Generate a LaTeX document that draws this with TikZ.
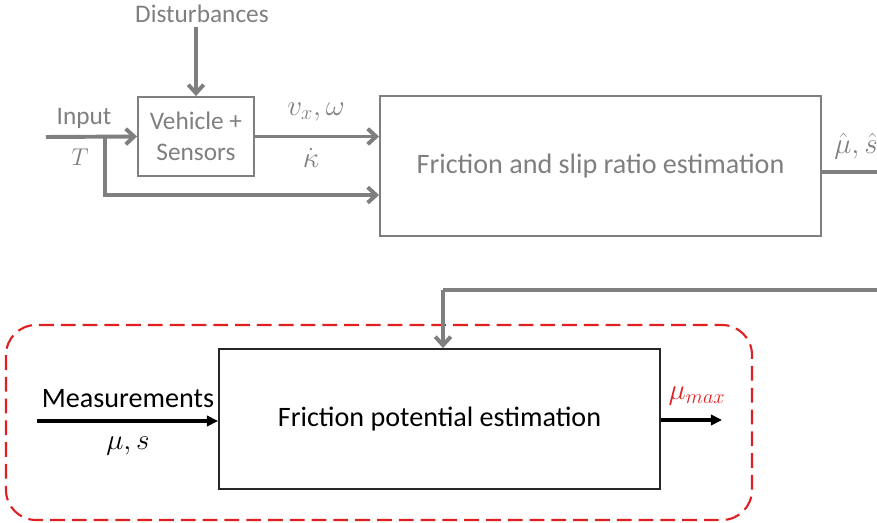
\documentclass[tikz,border=0pt]{standalone}
\usepackage{fontspec}
\setmainfont{Carlito}
\usetikzlibrary{arrows.meta,positioning}
\definecolor{boxgray}{HTML}{7F7F7F}
\definecolor{markred}{HTML}{E02020}

\tikzset{
  gblock/.style={draw=boxgray, line width=1.3pt, text=boxgray, align=center, inner sep=0pt},
  kblock/.style={draw=black!85, line width=1.3pt, align=center, inner sep=0pt},
  garrow/.style={draw=boxgray, line width=2.8pt, -{Straight Barb[length=6pt,width=11pt]}},
  gline/.style={draw=boxgray, line width=2.8pt},
  karrow/.style={draw=black, line width=2.3pt, -{Triangle[length=8pt,width=7.5pt]}},
  glabel/.style={text=boxgray, inner sep=0pt, font=\fontsize{18}{20}\selectfont},
  klabel/.style={inner sep=0pt, font=\fontsize{20}{22}\selectfont},
}

\begin{document}
\begin{tikzpicture}[x=0.025cm, y=-0.025cm]
\clip (0,0) rectangle (877,523);

% upper chain (gray)
\node[gblock, minimum width=2.9cm, minimum height=1.975cm,
      font=\fontsize{18}{22}\selectfont] (veh) at (196,136.5) {Vehicle +\\Sensors};
\node[gblock, minimum width=11.025cm, minimum height=3.5cm,
      font=\fontsize{20}{22}\selectfont] (fse) at (600.5,166) {Friction and slip ratio estimation};
\node[glabel] (dist) at (202,14) {Disturbances};
\draw[garrow] (veh.north |- dist.south) ++(0,4) -- (veh.north);

\coordinate (inp) at (46,137);
\coordinate (br) at (105,137);
\node[glabel] (inlabel) at (84,118) {Input};
\node[glabel] (tlabel) at (80,157) {$T$};
\draw[garrow] (inp) -- (veh.west);
\draw[garrow] (br) |- (fse.west |- 0,195);

\draw[garrow] (veh.east) -- (veh.east -| fse.west);
\node[glabel, font=\fontsize{20}{22}\selectfont] (vlabel) at (316,112) {$v_x,\omega$};
\node[glabel, font=\fontsize{20}{22}\selectfont] (klabel) at (311,158) {$\dot{\kappa}$};

% feedback to the lower block
\coordinate (turn1) at (881,172);
\coordinate (turn2) at (881,290);
\coordinate (drop) at (443,290);
\node[glabel, anchor=west, font=\fontsize{20}{22}\selectfont] (hatlabel) at (834,146) {$\hat{\mu}, \hat{s}$};

% lower block (black) inside red frame
\node[kblock, minimum width=11.025cm, minimum height=3.5cm,
      font=\fontsize{20}{22}\selectfont] (fpe) at (439.5,419) {Friction potential estimation};
\draw[markred, line width=1.5pt, dash pattern=on 10.5pt off 5pt, rounded corners=0.75cm]
  (6,325) rectangle (752,520);

\draw[gline] (fse.east |- turn1) -- (turn1) -- (turn2) -- (drop);
\draw[garrow] (drop) -- (drop |- fpe.north);

\coordinate (meas) at (37,421);
\node[klabel] (mlabel) at (128,399) {Measurements};
\node[klabel] (mslabel) at (128,446) {$\mu,s$};
\draw[karrow] (meas) -- (meas -| fpe.west);

\coordinate (out) at (722,420);
\node[klabel, text=markred] (maxlabel) at (697,396) {$\mu_{max}$};
\draw[karrow] (fpe.east |- out) -- (out);

\end{tikzpicture}
\end{document}
